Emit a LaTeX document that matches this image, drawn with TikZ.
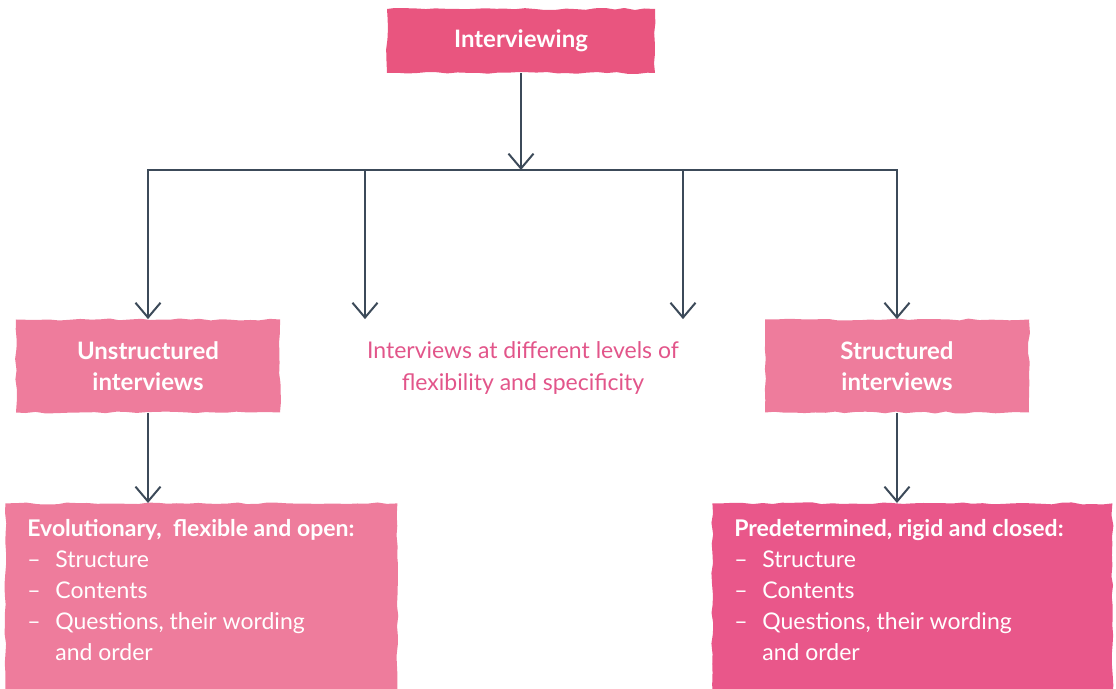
\documentclass[tikz,border=0pt]{standalone}
\usepackage{fontspec}
\setmainfont{Lato}
\usepackage{xcolor}
\usetikzlibrary{arrows.meta, positioning, calc, decorations.pathmorphing}

\definecolor{pinkTop}{HTML}{E9557F}
\definecolor{pinkSoft}{HTML}{EE7C9C}
\definecolor{pinkDeep}{HTML}{E9578A}
\definecolor{pinkText}{HTML}{E2558A}
\definecolor{slate}{HTML}{3C4A59}

\newcommand{\dashitem}[1]{\makebox[14pt][l]{--}#1}
\newcommand{\listblock}[2]{\parbox[t][80pt][t]{#1}{#2}}

\begin{document}
\pgfmathsetseed{7}
\begin{tikzpicture}[
        x=0.5pt, y=-0.5pt,
        box/.style={
            fill=#1,
            decorate,
            decoration={random steps, segment length=5pt, amplitude=0.5pt},
            align=center,
            text=white,
            font=\fontsize{12}{15.5}\selectfont\bfseries
        },
        listbox/.style={
            fill=#1,
            decorate,
            decoration={random steps, segment length=5pt, amplitude=0.5pt},
            text=white,
            anchor=north west,
            inner xsep=11pt,
            inner ysep=8pt,
            font=\fontsize{11.5}{15.5}\selectfont
        },
        arrow/.style={
            -{Straight Barb[length=2.6mm, width=4.4mm]},
            line width=1pt,
            draw=slate
        }
    ]
    \useasboundingbox (0,0) rectangle (1116,689);

    % Top
    \node[box=pinkTop, minimum width=134pt, minimum height=32pt] (interview) at (521,41) {Interviewing};

    % Second row
    \node[box=pinkSoft, minimum width=132pt, minimum height=46.5pt] (unstr) at (148,366) {Unstructured\\interviews};
    \node[box=pinkSoft, minimum width=132pt, minimum height=46.5pt] (struct) at (897,366) {Structured\\interviews};
    \node[
        text=pinkText,
        align=center,
        font=\fontsize{11.5}{16}\selectfont
    ] (levels) at (523,368) {Interviews at different levels of\\flexibility and specificity};

    % Lists
    \node[listbox=pinkSoft] (evol) at (5,503) {\listblock{174pt}{%
        \textbf{Evolutionary,\ \ flexible and open:}\\
        \dashitem{Structure}\\
        \dashitem{Contents}\\
        \dashitem{Questions, their wording}\\
        \hspace*{14pt}and order}};
    \node[listbox=pinkDeep] (pred) at (712,503) {\listblock{178pt}{%
        \textbf{Predetermined, rigid and closed:}\\
        \dashitem{Structure}\\
        \dashitem{Contents}\\
        \dashitem{Questions, their wording}\\
        \hspace*{14pt}and order}};

    % Bus
    \coordinate (bus) at (521,170);
    \coordinate (dropB) at (365,170);
    \coordinate (dropC) at (683,170);

    \draw[arrow] (interview) -- (bus);
    \draw[arrow] (bus) -| (unstr.north);
    \draw[arrow] (bus) -| (struct.north);
    \draw[arrow] (dropB) -- (dropB |- unstr.north);
    \draw[arrow] (dropC) -- (dropC |- unstr.north);

    \draw[arrow] (unstr.south) -- (unstr.south |- evol.north);
    \draw[arrow] (struct.south) -- (struct.south |- pred.north);

\end{tikzpicture}
\end{document}
